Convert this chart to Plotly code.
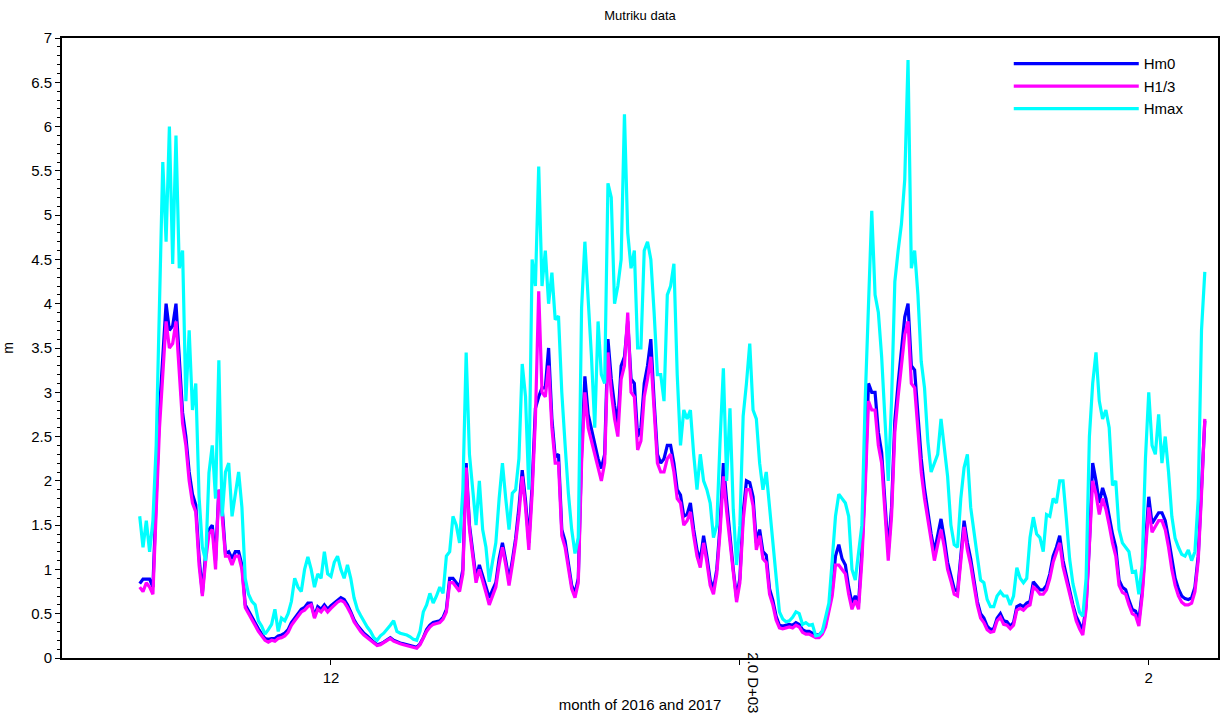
import pandas as pd
import plotly.graph_objects as go

# 6-hourly samples starting 2016-11-16 12:00
start_time = "2016-11-16 12:00"
step = "6h"

hm0 = [
    0.84, 0.89, 0.89, 0.89, 0.8, 1.75, 2.8, 3.4, 4.0, 3.7,
    3.75, 4.0, 3.35, 2.77, 2.5, 2.1, 1.85, 1.73, 1.14, 0.73,
    1.18, 1.45, 1.5, 1.1, 1.9, 1.7, 1.18, 1.2, 1.12, 1.2,
    1.2, 1.05, 0.6, 0.53, 0.46, 0.4, 0.33, 0.27, 0.22, 0.21,
    0.22, 0.22, 0.25, 0.26, 0.28, 0.32, 0.4, 0.45, 0.5, 0.55,
    0.57, 0.62,
    0.62, 0.47, 0.58, 0.55, 0.6, 0.55, 0.59, 0.62, 0.66, 0.68,
    0.66, 0.6, 0.52, 0.43, 0.37, 0.32, 0.28, 0.25, 0.21, 0.18,
    0.15, 0.16, 0.18, 0.21, 0.23, 0.2, 0.18, 0.17, 0.16, 0.15,
    0.14, 0.13, 0.12, 0.16, 0.23, 0.32, 0.37, 0.4, 0.41, 0.42,
    0.46, 0.55, 0.9, 0.9, 0.85, 0.8, 1.0, 2.2, 1.5, 1.2,
    0.9, 1.05, 0.93, 0.78, 0.68,
    0.77, 0.85, 1.12, 1.3, 1.1, 0.88, 1.1, 1.35, 1.7, 2.12,
    1.78, 1.3, 1.95, 2.82, 2.95, 3.05, 3.05, 3.5, 2.7, 2.27,
    2.3, 1.45, 1.32, 1.05, 0.82, 0.73, 0.9, 2.32, 3.18, 2.75,
    2.58, 2.45, 2.25, 2.14, 2.3, 3.6, 3.15, 2.85, 2.65, 3.3,
    3.4, 3.8, 3.15, 3.1, 2.5, 2.6, 3.1, 3.3, 3.6, 2.9,
    2.3, 2.2, 2.25, 2.4,
    2.4, 2.2, 1.9, 1.84, 1.6, 1.62, 1.75, 1.45, 1.22, 1.1,
    1.38, 1.15, 0.88, 0.78, 1.0, 1.5, 2.2, 1.77, 1.36, 1.0,
    0.68, 0.9, 1.64, 2.0, 1.98, 1.82, 1.3, 1.45, 1.2, 1.16,
    0.78, 0.65, 0.47, 0.37, 0.36, 0.37, 0.38, 0.37, 0.4, 0.38,
    0.32, 0.3, 0.3, 0.28, 0.26, 0.26, 0.3, 0.38, 0.58, 0.75,
    1.15, 1.28, 1.12, 1.05, 0.8,
    0.62, 0.7, 0.62, 1.2, 2.0, 3.1, 3.0, 3.0, 2.55, 2.32,
    1.7, 1.2, 1.7, 2.68, 3.1, 3.48, 3.85, 4.0, 3.3, 3.25,
    2.72, 2.25, 1.91, 1.65, 1.4, 1.2, 1.37, 1.57, 1.35, 1.08,
    0.93, 0.78, 0.75, 1.15, 1.55, 1.3, 1.12, 0.88, 0.64, 0.5,
    0.45, 0.36, 0.32, 0.33, 0.45, 0.5, 0.42, 0.41, 0.36, 0.4,
    0.58, 0.6, 0.58, 0.62,
    0.64, 0.86, 0.82, 0.77, 0.77, 0.82, 0.95, 1.15, 1.25, 1.38,
    1.1, 0.93, 0.78, 0.6, 0.47, 0.38, 0.31, 0.6, 1.3, 2.2,
    2.0, 1.75, 1.92, 1.8, 1.6, 1.4, 1.25, 0.88, 0.8, 0.77,
    0.65, 0.55, 0.53, 0.42, 0.75, 1.3, 1.82, 1.52, 1.58, 1.64,
    1.64, 1.55, 1.35, 1.1, 0.9, 0.78, 0.7, 0.67, 0.66, 0.68,
    0.8, 1.15, 1.9, 2.68,
]

h13 = [
    0.8, 0.75, 0.85, 0.8, 0.72, 1.7, 2.6, 3.2, 3.8, 3.5,
    3.55, 3.8, 3.2, 2.65, 2.4, 2.0, 1.75, 1.65, 1.05, 0.7,
    1.1, 1.4, 1.45, 1.0, 1.9, 1.6, 1.15, 1.15, 1.05, 1.15,
    1.15, 1.0, 0.57, 0.5, 0.43, 0.37, 0.3, 0.25, 0.2, 0.18,
    0.2, 0.19, 0.22, 0.23, 0.25, 0.29, 0.37, 0.42, 0.47, 0.52,
    0.54, 0.58,
    0.6, 0.45, 0.55, 0.52, 0.57, 0.52, 0.56, 0.6, 0.63, 0.65,
    0.63, 0.57, 0.5, 0.41, 0.35, 0.3, 0.26, 0.23, 0.2, 0.17,
    0.14, 0.15, 0.17, 0.2, 0.22, 0.19, 0.17, 0.16, 0.15, 0.14,
    0.13, 0.12, 0.11, 0.15, 0.22, 0.3, 0.35, 0.38, 0.39, 0.4,
    0.44, 0.52, 0.85, 0.85, 0.8, 0.75, 0.95, 2.15, 1.45, 1.15,
    0.85, 1.0, 0.88, 0.74, 0.6,
    0.7, 0.8, 1.05, 1.25, 1.05, 0.82, 1.05, 1.3, 1.62, 2.05,
    1.7, 1.22, 1.85, 2.7, 4.14, 3.0, 2.95, 3.3, 2.6, 2.2,
    2.2, 1.38, 1.25, 1.0, 0.78, 0.68, 0.85, 2.2, 3.0, 2.6,
    2.45, 2.3, 2.15, 2.0, 2.2, 3.45, 3.0, 2.7, 2.5, 3.15,
    3.3, 3.9, 3.0, 2.95, 2.35, 2.45, 2.95, 3.15, 3.4, 2.75,
    2.2, 2.1, 2.1, 2.25,
    2.3, 2.1, 1.8, 1.75, 1.5, 1.55, 1.65, 1.38, 1.15, 1.02,
    1.3, 1.08, 0.82, 0.72, 0.95, 1.42, 2.05, 1.65, 1.28, 0.95,
    0.63, 0.85, 1.55, 1.9, 1.9, 1.72, 1.22, 1.38, 1.12, 1.08,
    0.72, 0.6, 0.43, 0.34, 0.33, 0.34, 0.35, 0.34, 0.37, 0.35,
    0.29, 0.27, 0.27, 0.25, 0.23, 0.23, 0.27, 0.35, 0.54, 0.7,
    1.05, 1.05, 1.0, 0.95, 0.72,
    0.55, 0.65, 0.55, 1.1, 1.9, 2.9, 2.8, 2.8, 2.4, 2.2,
    1.6, 1.1, 1.6, 2.55, 2.95, 3.3, 3.65, 3.8, 3.1, 3.05,
    2.55, 2.1, 1.8, 1.55, 1.3, 1.1, 1.28, 1.45, 1.25, 1.0,
    0.87, 0.72, 0.7, 1.08, 1.48, 1.22, 1.05, 0.82, 0.6, 0.45,
    0.4, 0.32, 0.29, 0.3, 0.42, 0.46, 0.38, 0.37, 0.33, 0.37,
    0.54, 0.56, 0.54, 0.58,
    0.6, 0.8, 0.77, 0.72, 0.72, 0.77, 0.9, 1.08, 1.18, 1.3,
    1.03, 0.87, 0.72, 0.55, 0.42, 0.33, 0.26, 0.55, 1.2, 2.0,
    1.85, 1.62, 1.8, 1.68, 1.5, 1.3, 1.15, 0.82, 0.74, 0.72,
    0.6, 0.5, 0.48, 0.36, 0.7, 1.2, 1.7, 1.42, 1.48, 1.55,
    1.55, 1.45, 1.25, 1.0, 0.82, 0.7, 0.63, 0.6, 0.6, 0.62,
    0.75, 1.1, 1.85, 2.7,
]

hmax = [
    1.6, 1.25, 1.55, 1.2, 1.55, 2.4, 4.0, 5.6, 4.7, 6.0,
    4.45, 5.9, 4.4, 4.6, 2.9, 3.7, 2.8, 3.1, 1.82, 1.25,
    1.1, 2.09, 2.4, 1.8, 3.36, 1.6, 2.1, 2.2, 1.6, 1.86,
    2.1, 1.7, 0.9, 0.72, 0.64, 0.6, 0.42, 0.36, 0.27, 0.32,
    0.38, 0.55, 0.3, 0.45, 0.42, 0.5, 0.64, 0.9, 0.8, 0.75,
    1.0, 1.14,
    1.0, 0.8, 0.95, 0.9, 1.2, 0.95, 0.92, 1.08, 1.15, 1.0,
    0.9, 1.05, 0.9, 0.68, 0.55, 0.48, 0.41, 0.35, 0.3, 0.23,
    0.2, 0.25, 0.28, 0.32, 0.37, 0.42, 0.3, 0.28, 0.27, 0.26,
    0.24, 0.21, 0.2, 0.3, 0.52, 0.6, 0.73, 0.62, 0.7, 0.8,
    0.73, 1.15, 1.2, 1.6, 1.5, 1.3, 1.9, 3.45, 2.3, 1.9,
    1.5, 2.0, 1.45, 1.25, 0.86,
    1.09, 1.3, 1.8, 2.2, 1.8, 1.45, 1.86, 1.9, 2.25, 3.32,
    2.95, 1.9, 4.5, 4.2, 5.55, 4.2, 4.6, 4.0, 4.35, 3.82,
    3.86, 3.0, 2.41, 1.86, 1.45, 1.18, 1.36, 3.95, 4.7, 4.1,
    3.4, 2.6, 3.8, 3.2, 3.1, 5.36, 5.2, 4.0, 4.2, 4.5,
    6.14, 4.8, 4.4, 4.6, 3.5, 3.5, 4.6, 4.7, 4.5, 3.9,
    3.2, 3.2, 2.9, 4.1,
    4.2, 4.45, 3.2, 2.4, 2.8, 2.7, 2.8, 2.3, 1.9, 2.3,
    2.0, 1.9, 1.75, 1.36, 1.5, 2.45, 3.27, 2.0, 2.82, 1.68,
    1.05, 1.5, 2.73, 3.1, 3.55, 2.8, 2.7, 2.2, 1.9, 2.1,
    1.7, 1.25, 0.9, 0.52, 0.44, 0.41, 0.42, 0.46, 0.52, 0.5,
    0.38, 0.4, 0.37, 0.38, 0.25, 0.26, 0.3, 0.45, 0.62, 1.1,
    1.6, 1.85, 1.8, 1.75, 1.6,
    1.0, 0.88, 1.18, 1.5, 2.9, 4.1, 5.05, 4.1, 3.9, 3.4,
    2.7, 2.0, 2.9, 4.25, 4.6, 4.9, 5.4, 6.75, 4.4, 4.6,
    4.1, 3.35, 3.05, 2.45, 2.1, 2.2, 2.3, 2.7, 2.4, 2.05,
    1.5, 1.28, 1.25, 1.8, 2.15, 2.3, 1.7, 1.45, 1.15, 0.88,
    0.85, 0.66, 0.58, 0.58, 0.7, 0.75, 0.7, 0.7, 0.6, 0.7,
    1.02, 0.9, 0.85, 0.9,
    1.36, 1.59, 1.4, 1.36, 1.2, 1.62, 1.6, 1.8, 1.75, 2.0,
    2.0, 1.58, 1.12, 0.84, 0.68, 0.52, 0.47, 0.9, 2.5, 3.1,
    3.45, 2.9, 2.7, 2.8, 2.6, 1.95, 2.0, 1.45, 1.3, 1.25,
    1.2, 0.97, 0.98, 0.72, 1.05, 2.25, 3.0, 2.4, 2.3, 2.75,
    2.2, 2.5, 2.1, 1.6, 1.35, 1.25, 1.17, 1.15, 1.22, 1.1,
    1.2, 1.8, 3.7, 4.36,
]

tick_dates = ["2016-12-01", "2017-01-01", "2017-02-01"]
tick_text = ["12", "", "2"]
year_label = "2.0 D+03"

times = pd.date_range(start_time, periods=len(hm0), freq=step)

fig = go.Figure()
fig.add_trace(go.Scatter(x=times, y=hm0, mode="lines", name="Hm0",
                         line=dict(color="#0000ff", width=3.2)))
fig.add_trace(go.Scatter(x=times, y=h13, mode="lines", name="H1/3",
                         line=dict(color="#ff00ff", width=3.2)))
fig.add_trace(go.Scatter(x=times, y=hmax, mode="lines", name="Hmax",
                         line=dict(color="#00ffff", width=3.2)))

font_family = "Liberation Sans, Arial, sans-serif"

fig.update_layout(
    width=1220, height=720,
    margin=dict(l=62, r=2, t=38, b=62, autoexpand=False),
    paper_bgcolor="white", plot_bgcolor="white",
    font=dict(family=font_family, size=14, color="black"),
    title=dict(text="Mutriku data", x=0.5, xref="paper", xanchor="center",
               y=1, yref="container", yanchor="top", pad=dict(t=11),
               font=dict(size=13, color="black")),
    showlegend=True,
    legend=dict(x=0.819, y=0.985, xanchor="left", yanchor="top",
                bgcolor="rgba(0,0,0,0)", borderwidth=0,
                font=dict(size=15, color="black"),
                itemwidth=125, tracegroupgap=0),
)
fig.update_xaxes(
    range=["2016-11-10 14:36", "2017-02-06 06:00"],
    tickmode="array", tickvals=tick_dates, ticktext=tick_text,
    ticks="outside", ticklen=5, tickwidth=1, tickcolor="black",
    showline=True, linecolor="black", linewidth=2, mirror=True,
    showgrid=False, zeroline=False, automargin=False,
    title=dict(text="month of 2016 and 2017", font=dict(size=15), standoff=14),
    tickfont=dict(size=15),
)
fig.update_yaxes(
    range=[0, 7], tickmode="linear", tick0=0, dtick=0.5,
    ticks="outside", ticklen=5, tickwidth=1, tickcolor="black",
    minor=dict(dtick=0.1, ticks="outside", ticklen=3, tickcolor="black"),
    showline=True, linecolor="black", linewidth=2, mirror=True,
    showgrid=False, zeroline=False, automargin=False,
    title=dict(text="m", font=dict(size=14), standoff=22),
    tickfont=dict(size=15),
)
fig.add_annotation(x=tick_dates[1], xref="x", y=0, yref="paper",
                   text=year_label, textangle=90, showarrow=False,
                   xanchor="left", yanchor="top", xshift=3, yshift=8,
                   font=dict(size=15, color="black"))

fig.write_html("out.html")
